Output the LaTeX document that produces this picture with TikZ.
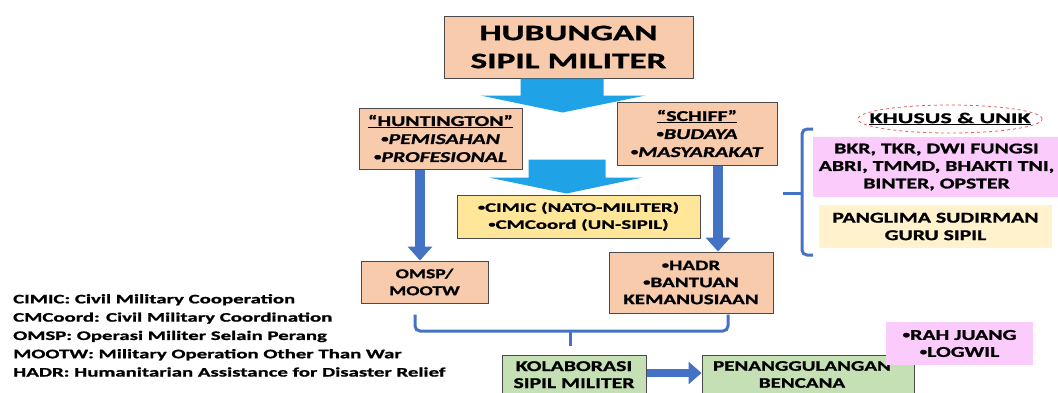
\documentclass[tikz,border=0pt]{standalone}
\usepackage{fontspec}
\setmainfont{Carlito}[FakeStretch=1.45, BoldFeatures={FakeBold=1.2}, BoldItalicFeatures={FakeBold=1.2}]
\newfontfamily\widefont{Carlito}[FakeStretch=1.6, BoldFeatures={FakeBold=1.2}]
\usetikzlibrary{arrows.meta,calc,shapes.geometric}
\definecolor{peach}{HTML}{F8CBAD}
\definecolor{boxline}{HTML}{4A4A4A}
\definecolor{ylw}{HTML}{FFE699}
\definecolor{grn}{HTML}{C5E0B4}
\definecolor{pnk}{HTML}{FBCBFB}
\definecolor{crm}{HTML}{FFF2CC}
\definecolor{bline}{HTML}{4472C4}
\definecolor{sky}{HTML}{1FA2E6}
\definecolor{redd}{HTML}{E06060}
\newcommand{\bul}{\raisebox{0.12em}{\scalebox{0.7}{•}}}
\tikzset{
  pbox/.style={draw=boxline, line width=1pt, fill=peach, inner sep=0pt, align=center},
  ybox/.style={draw=boxline, line width=1pt, fill=ylw, inner sep=0pt, align=center},
  gbox/.style={draw=boxline, line width=1pt, fill=grn, inner sep=0pt, align=center},
  plainbox/.style={inner sep=0pt, align=center},
  fatarrow/.style={draw=bline, line width=10pt, -{Triangle[width=24pt,length=14pt]}},
  midarrow/.style={draw=bline, line width=8pt, -{Triangle[width=22pt,length=13pt]}},
  bracket/.style={draw=bline, line width=3pt, rounded corners=5pt},
  blockarrow/.style={fill=sky},
}
\begin{document}
\begin{tikzpicture}[x=1pt,y=-1pt]
\useasboundingbox (0,0) rectangle (1058,392);
\fill[white] (0,0) rectangle (1058,392);

% main boxes
\node[pbox, font=\widefont\fontsize{22}{28}\selectfont\bfseries, minimum width=249pt, minimum height=62pt] (top) at (568.5,47) {HUBUNGAN\\SIPIL MILITER};
\node[pbox, font=\fontsize{15}{18}\selectfont\bfseries, minimum width=163pt, minimum height=61pt] (hunt) at (440.5,138.5)
  {\underline{“HUNTINGTON”}\\\textit{\bul PEMISAHAN}\\\textit{\bul PROFESIONAL}};
\node[pbox, font=\fontsize{15}{18}\selectfont\bfseries, minimum width=160pt, minimum height=63pt] (schiff) at (697,133.5)
  {\underline{“SCHIFF”}\\\textit{\bul BUDAYA}\\\textit{\bul MASYARAKAT}};
\node[ybox, font=\widefont\fontsize{13}{17}\selectfont\bfseries, minimum width=243pt, minimum height=43pt] (cimic) at (578.5,216.5)
  {\bul CIMIC (NATO-MILITER)\\\bul CMCoord (UN-SIPIL)};
\node[pbox, font=\fontsize{13.5}{17}\selectfont\bfseries, minimum width=127pt, minimum height=42pt] (omsp) at (424.5,282) {OMSP/\\MOOTW};
\node[pbox, font=\fontsize{14.5}{17}\selectfont\bfseries, minimum width=164pt, minimum height=61pt] (hadr) at (691,282.5)
  {\bul HADR\\\bul BANTUAN\\KEMANUSIAAN};
\node[gbox, minimum width=144pt, minimum height=46pt] (kolab) at (574,378) {};
\node[plainbox, font=\fontsize{15}{17}\selectfont\bfseries, anchor=north] (kolabt) at (574,361)
  {KOLABORASI\\SIPIL MILITER};
\node[gbox, minimum width=212pt, minimum height=46pt] (penang) at (808,378) {};
\node[plainbox, font=\fontsize{14.5}{17}\selectfont\bfseries, anchor=north] (penangt) at (802,361)
  {PENANGGULANGAN\\BENCANA};
\node[plainbox, fill=pnk, font=\fontsize{15}{17}\selectfont\bfseries, minimum width=147pt, minimum height=43pt] (rah) at (959.5,343.5)
  {\bul RAH JUANG\\\bul LOGWIL};

% right column
\node[draw=redd, dashed, line width=0.8pt, ellipse, minimum width=184pt, minimum height=28pt, inner sep=0pt] (khe) at (950,119) {};
\node[plainbox, font=\widefont\fontsize{15}{18}\selectfont\bfseries] (khusus) at (khe.center) {\underline{KHUSUS \& UNIK}};
\node[plainbox, fill=pnk, font=\fontsize{15}{17.5}\selectfont\bfseries, minimum width=247pt, minimum height=60pt] (pink) at (936.5,167)
  {BKR, TKR, DWI FUNGSI\\ABRI, TMMD, BHAKTI TNI,\\BINTER, OPSTER};
\node[plainbox, fill=crm, font=\fontsize{15}{17.5}\selectfont\bfseries, minimum width=233pt, minimum height=43pt] (guru) at (935.5,226.5)
  {PANGLIMA SUDIRMAN\\GURU SIPIL};

% legend
\node[plainbox, font=\widefont\fontsize{13}{18.3}\selectfont\bfseries, align=left, anchor=north west] (legend) at (13,294)
  {CIMIC: Civil Military Cooperation\\
   CMCoord: Civil Military Coordination\\
   OMSP: Operasi Militer Selain Perang\\
   MOOTW: Military Operation Other Than War\\
   HADR: Humanitarian Assistance for Disaster Relief};

% block arrows
\fill[blockarrow] ($(top.south)+(-48,0)$) -- ++(0,17) -- ++(-40,0) -- ($(top.south)+(-6,34)$)
  -- ($(top.south)+(77,17)$) -- ++(-42,0) -- ($(top.south)+(35,0)$) -- cycle;
\fill[blockarrow] ($(cimic.north)+(-50,-35)$) -- ++(0,18) -- ++(-40,0) -- ($(cimic.north)+(-12,-1)$)
  -- ($(cimic.north)+(64,-17)$) -- ++(-37,0) -- ++(0,-18) -- cycle;

% vertical arrows
\coordinate (lx) at (420,0);
\coordinate (rx) at (718,0);
\draw[fatarrow] (hunt.south -| lx) -- (omsp.north -| lx);
\draw[fatarrow] (schiff.south -| rx) -- (hadr.north -| rx);

% bottom bracket
\coordinate (bl) at ($(omsp.south -| 415,0)+(0,11)$);
\coordinate (br) at ($(hadr.south -| 728,0)+(0,1)$);
\coordinate (bm) at (570,331);
\coordinate (bt) at (570,346);
\draw[bracket] (bl) -- (bl |- bm) -- (br |- bm) -- (br);
\draw[bracket] (bm) -- (bt);
\draw[midarrow] ([yshift=5pt]kolab.east) -- ([yshift=5pt]penang.west);

% right brace
\coordinate (rt) at (813,129);
\coordinate (rb) at (813,255);
\coordinate (rm) at (783,193);
\draw[bracket] (rt) -- (802,129) -- (802,255) -- (rb);
\draw[bracket] (802,193) -- (rm);
\end{tikzpicture}
\end{document}
